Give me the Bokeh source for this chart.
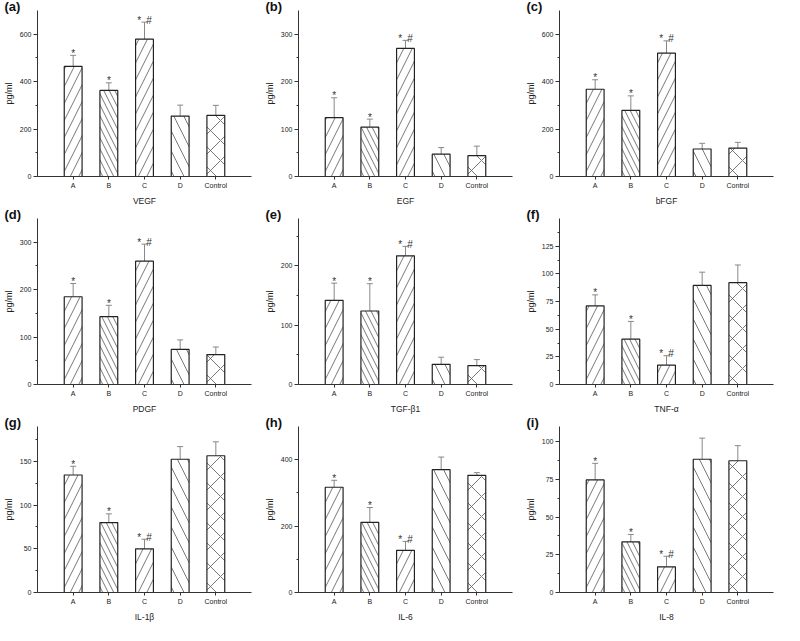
from bokeh.plotting import figure
from bokeh.layouts import gridplot
from bokeh.models import FactorRange, Range1d, FixedTicker, Whisker, ColumnDataSource, TeeHead
from bokeh.core.properties import value
from bokeh.embed import file_html
from bokeh.resources import INLINE

categories = ["A", "B", "C", "D", "Control"]
marks = ["*", "*", "*\u2002#", "", ""]

vegf_mean = [464, 363, 579, 255, 258]
vegf_sd = [47, 32, 72, 46, 42]
egf_mean = [124, 104, 270, 47, 44]
egf_sd = [42, 17, 17, 14, 20]
bfgf_mean = [368, 279, 520, 116, 120]
bfgf_sd = [40, 61, 52, 24, 24]
pdgf_mean = [185, 143, 260, 74, 63]
pdgf_sd = [28, 24, 36, 20, 16]
tgfb1_mean = [142, 124, 217, 34, 32]
tgfb1_sd = [29, 46, 16, 12, 10]
tnfa_mean = [71, 41, 17.5, 89.5, 92]
tnfa_sd = [10, 16, 8.5, 12, 16]
il1b_mean = [134.5, 80, 50, 152.5, 156.5]
il1b_sd = [10, 10, 11, 14.5, 16]
il6_mean = [317, 211, 127, 370, 353]
il6_sd = [21, 45, 27, 38, 8]
il8_mean = [74.6, 33.5, 17, 88.3, 87.3]
il8_sd = [11, 5, 7, 14, 10]

vegf_ticks = [0, 200, 400, 600]
egf_ticks = [0, 100, 200, 300]
bfgf_ticks = [0, 200, 400, 600]
pdgf_ticks = [0, 100, 200, 300]
tgfb1_ticks = [0, 100, 200]
tnfa_ticks = [0, 25, 50, 75, 100, 125]
il1b_ticks = [0, 50, 100, 150]
il6_ticks = [0, 200, 400]
il8_ticks = [0, 25, 50, 75, 100]

# styles (kept separate from data)
bar_patterns = ["/", "\\", "/", "\\", "x"]
bar_hatch_scales = [17, 11, 17, 20, 20]
FONT = "Liberation Sans"

panels = [
    ("(a)", "VEGF", vegf_mean, vegf_sd, 700, vegf_ticks),
    ("(b)", "EGF", egf_mean, egf_sd, 350, egf_ticks),
    ("(c)", "bFGF", bfgf_mean, bfgf_sd, 700, bfgf_ticks),
    ("(d)", "PDGF", pdgf_mean, pdgf_sd, 350, pdgf_ticks),
    ("(e)", "TGF-\u03b21", tgfb1_mean, tgfb1_sd, 280, tgfb1_ticks),
    ("(f)", "TNF-\u03b1", tnfa_mean, tnfa_sd, 150, tnfa_ticks),
    ("(g)", "IL-1\u03b2", il1b_mean, il1b_sd, 190, il1b_ticks),
    ("(h)", "IL-6", il6_mean, il6_sd, 500, il6_ticks),
    ("(i)", "IL-8", il8_mean, il8_sd, 110, il8_ticks),
]


def make_panel(tag, title, mean, sd, ymax, ticks):
    upper = [m + s for m, s in zip(mean, sd)]
    src = ColumnDataSource(dict(x=categories, mean=mean, upper=upper, mark=marks,
                                pat=bar_patterns, hs=bar_hatch_scales))
    p = figure(x_range=FactorRange(*categories, range_padding=0.2, range_padding_units="percent"),
               y_range=Range1d(0, ymax),
               width=261, height=208,
               min_border_left=33, min_border_right=10, min_border_top=0, min_border_bottom=28,
               output_backend="svg", toolbar_location=None, tools="",
               title=tag)
    p.title.align = "left"
    p.title.offset = -33
    p.title.standoff = -7
    p.title.text_font = FONT
    p.title.text_font_size = "13px"
    p.title.text_font_style = "bold"
    p.title.text_color = "#111111"

    p.outline_line_color = None
    p.xgrid.grid_line_color = None
    p.ygrid.grid_line_color = None
    p.background_fill_color = "white"

    p.vbar(x="x", top="mean", width=0.5, source=src, fill_color="white",
           line_color="#222222", line_width=1.2,
           hatch_pattern="pat", hatch_scale="hs", hatch_color="#555555", hatch_weight=0.8)

    wh = Whisker(source=src, base="x", upper="upper", lower="mean",
                 line_color="#888888", line_width=1,
                 upper_head=TeeHead(size=6, line_color="#888888", line_width=1),
                 lower_head=None)
    p.add_layout(wh)

    p.text(x="x", y="upper", text="mark", source=src, text_align="center",
           text_baseline="alphabetic", y_offset=-2, text_font_size="10px",
           text_font=value(FONT), text_color="#333333")

    step = ticks[1] - ticks[0]
    minor = [t + step / 2 for t in ticks if t + step / 2 < ymax]
    p.yaxis.ticker = FixedTicker(ticks=ticks, minor_ticks=minor)

    for ax in (p.xaxis[0], p.yaxis[0]):
        ax.axis_line_color = "#333333"
        ax.axis_line_width = 1
        ax.major_tick_line_color = "#333333"
        ax.minor_tick_line_color = "#333333"
        ax.major_tick_in = 0
        ax.minor_tick_in = 0
        ax.major_label_text_font = FONT
        ax.major_label_text_font_size = "7px"
        ax.major_label_text_color = "#222222"
        ax.axis_label_text_font = FONT
        ax.axis_label_text_font_style = "normal"
        ax.axis_label_text_color = "#222222"
        ax.major_label_standoff = 2
    p.yaxis.major_tick_out = 4
    p.yaxis.minor_tick_out = 2
    p.yaxis.axis_label = "pg/ml"
    p.yaxis.axis_label_text_font_size = "9px"
    p.yaxis.axis_label_standoff = 3
    p.xaxis.major_tick_out = 3
    p.xaxis.minor_tick_line_color = None
    p.xaxis.axis_label = title
    p.xaxis.axis_label_text_font_size = "8.5px"
    p.xaxis.axis_label_standoff = 4
    p.xaxis.major_label_orientation = "horizontal"
    return p


figs = [make_panel(*pn) for pn in panels]
grid = gridplot([figs[0:3], figs[3:6], figs[6:9]], toolbar_location=None)

open("out.html", "w").write(file_html(grid, INLINE))
